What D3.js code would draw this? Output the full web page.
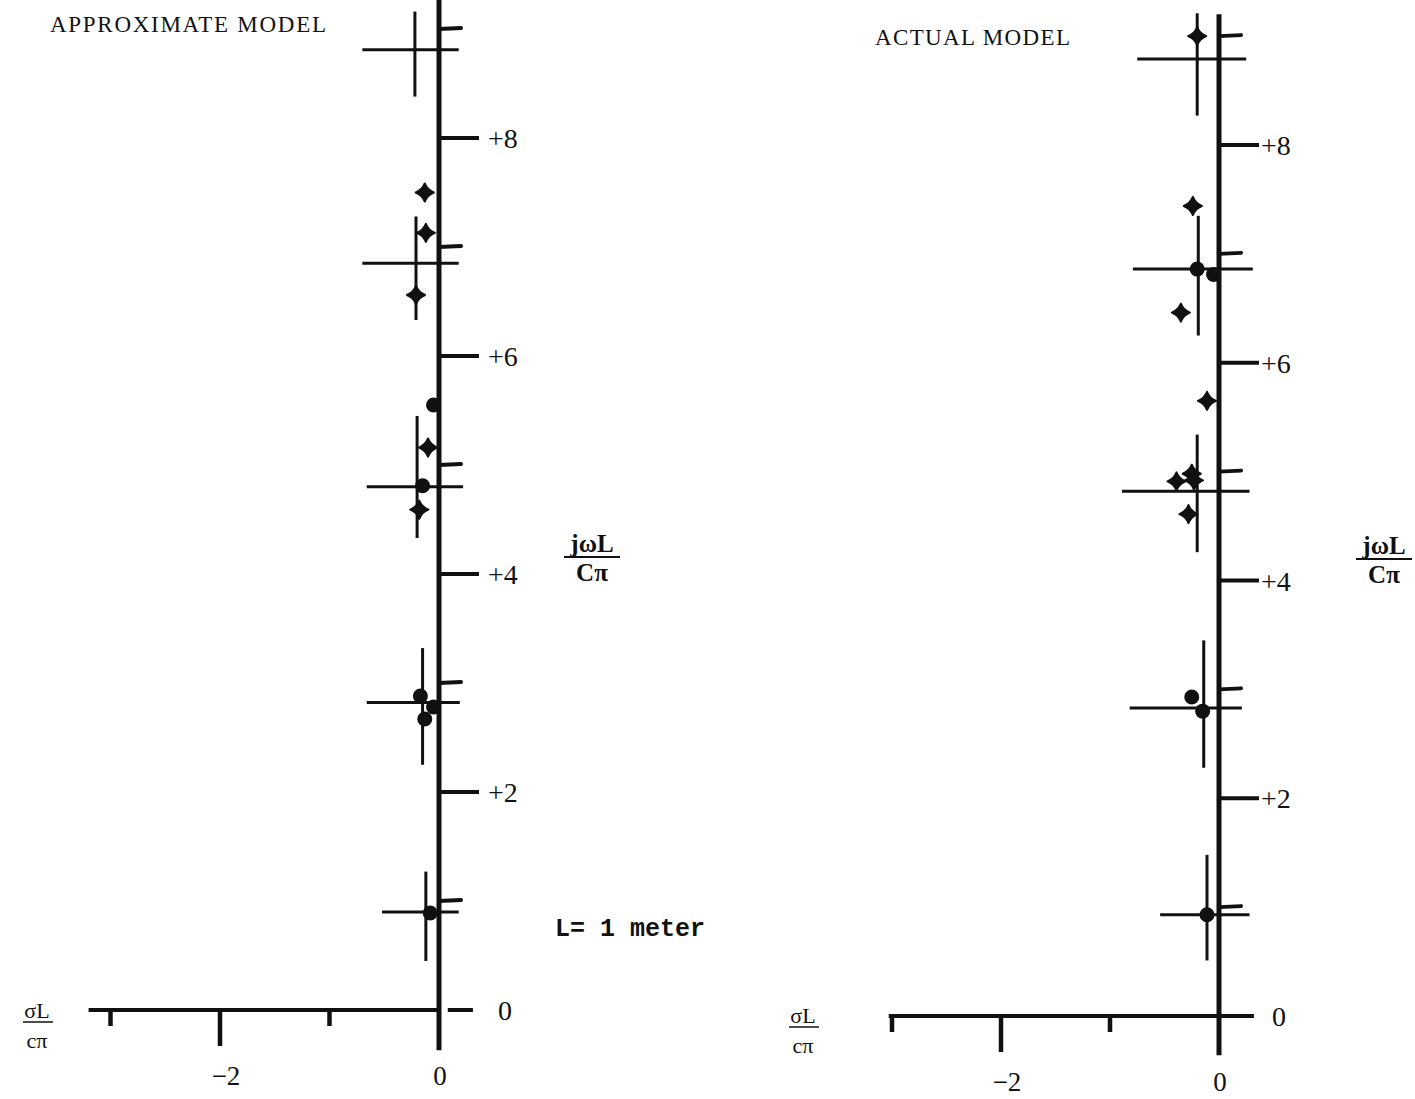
<!DOCTYPE html>
<html>
<head>
<meta charset="utf-8">
<script src="https://cdn.jsdelivr.net/npm/d3@7"></script>
<style>
  body { margin: 0; background: #fff; }
  svg { display: block; }
  text { fill: #111; }
</style>
</head>
<body>
<svg id="chart" width="1415" height="1099"></svg>
<script>
// Root locus style plots (sigma, omega)
const evenTicks = [0, 2, 4, 6, 8];
const oddTicks = [1, 3, 5, 7, 9];
const xTicks = [-3, -2, -1];
const xTickLabels = [-2, 0];
const yTickLabels = ["0", "+2", "+4", "+6", "+8"];

// crosses: [sigma, omega, sigmaMin, sigmaMax, omegaMin, omegaMax]
const approxCrosses = [
    [-0.22, 8.81, -0.70, 0.18, 8.38, 9.16],
    [-0.21, 6.85, -0.70, 0.18, 6.33, 7.28],
    [-0.20, 4.80, -0.66, 0.22, 4.33, 5.45],
    [-0.15, 2.82, -0.66, 0.19, 2.25, 3.32],
    [-0.12, 0.90, -0.52, 0.18, 0.45, 1.27]
];
const approxStars = [
    [-0.13, 7.50], [-0.12, 7.13], [-0.21, 6.56],
    [-0.10, 5.16], [-0.18, 4.59]
];
const approxBlobs = [
    [-0.05, 5.55], [-0.15, 4.81], [-0.17, 2.88],
    [-0.05, 2.78], [-0.13, 2.67], [-0.08, 0.89]
];

const actualCrosses = [
    [-0.20, 8.79, -0.75, 0.25, 8.27, 9.21],
    [-0.19, 6.86, -0.79, 0.31, 6.25, 7.35],
    [-0.20, 4.82, -0.89, 0.28, 4.26, 5.34],
    [-0.14, 2.83, -0.82, 0.21, 2.28, 3.45],
    [-0.11, 0.93, -0.54, 0.28, 0.51, 1.48]
];
const actualStars = [
    [-0.20, 9.00], [-0.24, 7.44], [-0.35, 6.46], [-0.11, 5.65],
    [-0.39, 4.91], [-0.25, 4.98], [-0.23, 4.92], [-0.28, 4.61]
];
const actualBlobs = [
    [-0.20, 6.86], [-0.05, 6.81], [-0.25, 2.93],
    [-0.15, 2.80], [-0.11, 0.93]
];

const svg = d3.select("#chart");

// 4 pointed star marker, like the hand drawn poles
const star4 = {
    draw(context, size) {
        const r = Math.sqrt(size) / 2, c = r * 0.28;
        context.moveTo(0, -r);
        context.quadraticCurveTo(c, -c, r, 0);
        context.quadraticCurveTo(c, c, 0, r);
        context.quadraticCurveTo(-c, c, -r, 0);
        context.quadraticCurveTo(-c, -c, 0, -r);
        context.closePath();
    }
};

const panels = [
    {
        title: "APPROXIMATE MODEL", titleX: 50, titleY: 32, titleW: 276,
        x: d3.scaleLinear().domain([-2, 0]).range([220, 439]),
        y: d3.scaleLinear().domain([0, 8]).range([1010, 138]),
        axisTop: 9.32, axisBottom: -0.37, xLeft: -3.2, xRight: 0.0, dash: [0.08, 0.31],
        crosses: approxCrosses, stars: approxStars, blobs: approxBlobs,
        labelX: 488, zeroLabelX: 498, fracX: 592, fracY: 552, sigX: 37, sigY: 1018,
        note: true
    },
    {
        title: "ACTUAL MODEL", titleX: 875, titleY: 45, titleW: 195,
        x: d3.scaleLinear().domain([-2, 0]).range([1001, 1219]),
        y: d3.scaleLinear().domain([0, 8]).range([1016, 145]),
        axisTop: 9.2, axisBottom: -0.36, xLeft: -3.03, xRight: 0.32, dash: null,
        crosses: actualCrosses, stars: actualStars, blobs: actualBlobs,
        labelX: 1261, zeroLabelX: 1272, fracX: 1384, fracY: 554, sigX: 803, sigY: 1023,
        note: false
    }
];

panels.forEach(p => {
    const g = svg.append("g");
    const x = p.x, y = p.y;

    // title
    g.append("text")
        .attr("x", p.titleX).attr("y", p.titleY)
        .attr("textLength", p.titleW)
        .attr("lengthAdjust", "spacing")
        .style("font-family", "Liberation Serif, Times New Roman, serif")
        .style("font-size", "23px")
        .text(p.title);

    // vertical (jw) axis
    g.append("line")
        .attr("x1", x(0)).attr("x2", x(0))
        .attr("y1", y(p.axisTop)).attr("y2", y(p.axisBottom))
        .style("stroke", "#111").style("stroke-width", 5);

    // horizontal (sigma) axis
    g.append("line")
        .attr("x1", x(p.xLeft)).attr("x2", x(p.xRight))
        .attr("y1", y(0)).attr("y2", y(0))
        .style("stroke", "#111").style("stroke-width", 4);
    if (p.dash) {
        g.append("line")
            .attr("x1", x(p.dash[0])).attr("x2", x(p.dash[1]))
            .attr("y1", y(0)).attr("y2", y(0))
            .style("stroke", "#111").style("stroke-width", 4);
    }

    // ticks under the sigma axis
    g.selectAll(".xtick")
        .data(xTicks)
        .enter().append("line")
        .attr("class", "xtick")
        .attr("x1", d => x(d)).attr("x2", d => x(d))
        .attr("y1", y(0)).attr("y2", d => y(0) + (d === -2 ? 36 : 16))
        .style("stroke", "#111").style("stroke-width", 4.5);

    g.selectAll(".xlabel")
        .data(xTickLabels)
        .enter().append("text")
        .attr("class", "xlabel")
        .attr("x", d => x(d) + (d === 0 ? 1 : 6))
        .attr("y", y(0) + 75)
        .attr("text-anchor", "middle")
        .style("font-family", "Liberation Serif, Times New Roman, serif")
        .style("font-size", "27px")
        .text(d => d < 0 ? "\u2212" + Math.abs(d) : d);

    // even ticks on the right of the jw axis
    g.selectAll(".ytick")
        .data(evenTicks.filter(d => d > 0))
        .enter().append("line")
        .attr("class", "ytick")
        .attr("x1", x(0)).attr("x2", x(0) + 40)
        .attr("y1", d => y(d)).attr("y2", d => y(d))
        .style("stroke", "#111").style("stroke-width", 4);

    g.selectAll(".yminor")
        .data(oddTicks)
        .enter().append("line")
        .attr("class", "yminor")
        .attr("x1", x(0)).attr("x2", x(0) + 22)
        .attr("y1", d => y(d)).attr("y2", d => y(d) - 1)
        .style("stroke", "#111").style("stroke-width", 4)
        .style("stroke-linecap", "round");

    g.selectAll(".ylabel")
        .data(evenTicks)
        .enter().append("text")
        .attr("class", "ylabel")
        .attr("x", d => d === 0 ? p.zeroLabelX : p.labelX)
        .attr("y", d => y(d) + 10)
        .style("font-family", "Liberation Serif, Times New Roman, serif")
        .style("font-size", "28px")
        .text((d, i) => yTickLabels[i]);

    // cross hairs around the pole groups
    const cross = g.selectAll(".cross")
        .data(p.crosses)
        .enter().append("g")
        .attr("class", "cross");
    cross.append("line")
        .attr("x1", d => x(d[2])).attr("x2", d => x(d[3]))
        .attr("y1", d => y(d[1])).attr("y2", d => y(d[1]))
        .style("stroke", "#111").style("stroke-width", 3);
    cross.append("line")
        .attr("x1", d => x(d[0])).attr("x2", d => x(d[0]))
        .attr("y1", d => y(d[4])).attr("y2", d => y(d[5]))
        .style("stroke", "#111").style("stroke-width", 3);

    // star shaped poles
    g.selectAll(".star")
        .data(p.stars)
        .enter().append("path")
        .attr("class", "star")
        .attr("transform", d => "translate(" + x(d[0]) + "," + y(d[1]) + ")")
        .attr("d", d3.symbol().type(star4).size(330))
        .style("fill", "#111")
        .style("stroke", "#111")
        .style("stroke-width", 2)
        .style("stroke-linejoin", "round");

    // blobs
    g.selectAll(".blob")
        .data(p.blobs)
        .enter().append("circle")
        .attr("class", "blob")
        .attr("cx", d => x(d[0]))
        .attr("cy", d => y(d[1]))
        .attr("r", 7.5)
        .style("fill", "#111");

    // jwL / C pi label
    const frac = g.append("g")
        .style("font-family", "Liberation Serif, Times New Roman, serif")
        .style("font-weight", "bold")
        .style("font-size", "25px");
    frac.append("text")
        .attr("x", p.fracX).attr("y", p.fracY)
        .attr("text-anchor", "middle")
        .text("j\u03c9L");
    frac.append("line")
        .attr("x1", p.fracX - 28).attr("x2", p.fracX + 28)
        .attr("y1", p.fracY + 5).attr("y2", p.fracY + 5)
        .style("stroke", "#111").style("stroke-width", 2);
    frac.append("text")
        .attr("x", p.fracX).attr("y", p.fracY + 29)
        .attr("text-anchor", "middle")
        .text("C\u03c0");

    // sigma L / c pi label
    const sig = g.append("g")
        .style("font-family", "Liberation Serif, Times New Roman, serif")
        .style("font-size", "22px");
    sig.append("text")
        .attr("x", p.sigX).attr("y", p.sigY)
        .attr("text-anchor", "middle")
        .text("\u03c3L");
    sig.append("line")
        .attr("x1", p.sigX - 14).attr("x2", p.sigX + 16)
        .attr("y1", p.sigY + 4).attr("y2", p.sigY + 4)
        .style("stroke", "#111").style("stroke-width", 1.5);
    sig.append("text")
        .attr("x", p.sigX).attr("y", p.sigY + 30)
        .attr("text-anchor", "middle")
        .text("c\u03c0");

    if (p.note) {
        g.append("text")
            .attr("x", 555).attr("y", 936)
            .style("font-family", "Liberation Mono, Courier New, monospace")
            .style("font-weight", "bold")
            .style("font-size", "25px")
            .text("L= 1 meter");
    }
});
</script>
</body>
</html>
